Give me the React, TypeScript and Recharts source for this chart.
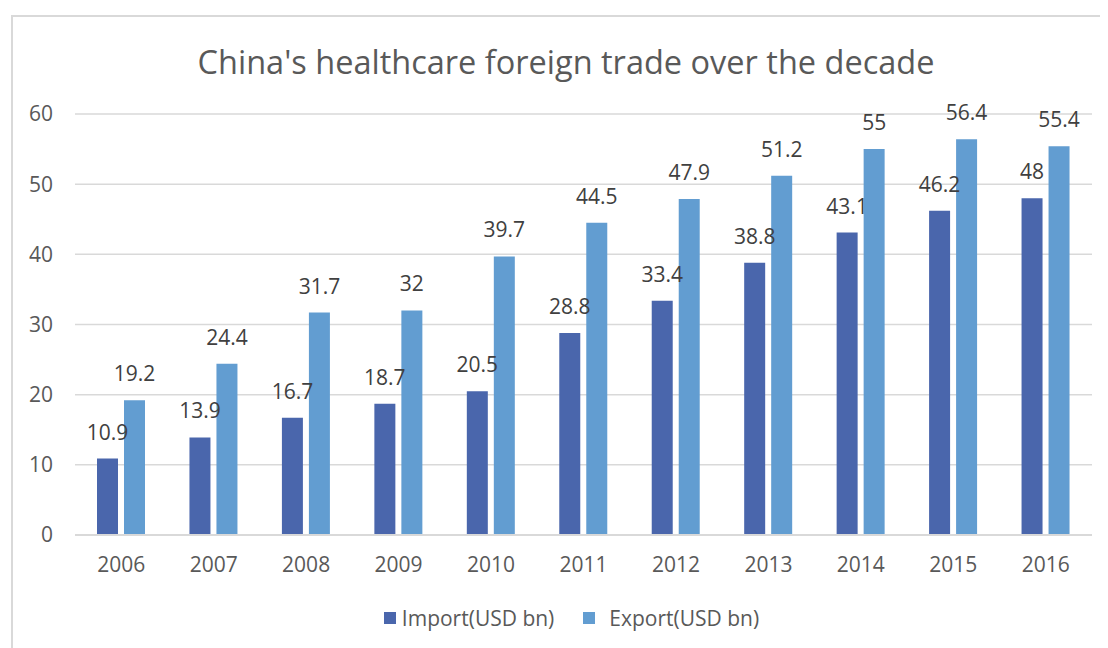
import React from "react";
import { BarChart, Bar, XAxis, YAxis, CartesianGrid, LabelList, Legend } from "recharts";

const years = ["2006", "2007", "2008", "2009", "2010", "2011", "2012", "2013", "2014", "2015", "2016"];
const importValues = [10.9, 13.9, 16.7, 18.7, 20.5, 28.8, 33.4, 38.8, 43.1, 46.2, 48];
const exportValues = [19.2, 24.4, 31.7, 32, 39.7, 44.5, 47.9, 51.2, 55, 56.4, 55.4];
const yTicks = [0, 10, 20, 30, 40, 50, 60];
const seriesNames = { imp: "Import(USD bn)", exp: "Export(USD bn)" };

const data = years.map((y, i) => ({ year: y, imp: importValues[i], exp: exportValues[i] }));

const FONT = "'Open Sans', 'Noto Sans', sans-serif";
const IMPORT_COLOR = "#4A66AC";
const EXPORT_COLOR = "#629DD1";

const LegendContent = () => (
  <div style={{ display: "flex", justifyContent: "center", alignItems: "center", fontFamily: FONT, fontSize: 21, color: "#595959", paddingLeft: 36 }}>
    <span style={{ display: "inline-block", width: 12, height: 12, background: IMPORT_COLOR, marginRight: 6 }} />
    <span style={{ marginRight: 29 }}>{seriesNames.imp}</span>
    <span style={{ display: "inline-block", width: 12, height: 12, background: EXPORT_COLOR, marginRight: 14 }} />
    <span>{seriesNames.exp}</span>
  </div>
);

export default function App() {
  return (
    <div style={{ position: "relative", width: 1100, height: 640, background: "#fff" }}>
      <div style={{ position: "absolute", left: 3, top: 7, width: 1110, height: 650, border: "2px solid #D9D9D9", boxSizing: "border-box" }} />
      <div style={{ position: "absolute", left: 0, top: 31, width: 1116, textAlign: "center", fontFamily: FONT, fontSize: 32.5, color: "#595959" }}>
        China's healthcare foreign trade over the decade
      </div>
      <div style={{ position: "absolute", left: 0, top: 0 }}>
        <BarChart width={1100} height={640} data={data} margin={{ top: 106, right: 16, bottom: 35, left: 7 }} barSize={21} barGap={6}>
          <CartesianGrid vertical={false} stroke="#D9D9D9" strokeWidth={1.5} />
          <XAxis dataKey="year" axisLine={{ stroke: "#D9D9D9", strokeWidth: 2 }} tickLine={false} tickMargin={16} height={50}
            tick={{ fill: "#595959", fontSize: 21, fontFamily: FONT }} />
          <YAxis domain={[0, 60]} ticks={yTicks} axisLine={false} tickLine={false} width={60} tickMargin={16}
            tick={{ fill: "#595959", fontSize: 21, fontFamily: FONT }} />
          <Legend verticalAlign="bottom" content={<LegendContent />} wrapperStyle={{ bottom: 16 }} />
          <Bar dataKey="imp" name={seriesNames.imp} fill={IMPORT_COLOR} isAnimationActive={false}>
            <LabelList dataKey="imp" position="top" offset={19} style={{ fill: "#404040", fontSize: 21, fontFamily: FONT }} />
          </Bar>
          <Bar dataKey="exp" name={seriesNames.exp} fill={EXPORT_COLOR} isAnimationActive={false}>
            <LabelList dataKey="exp" position="top" offset={19} style={{ fill: "#404040", fontSize: 21, fontFamily: FONT }} />
          </Bar>
        </BarChart>
      </div>
    </div>
  );
}
